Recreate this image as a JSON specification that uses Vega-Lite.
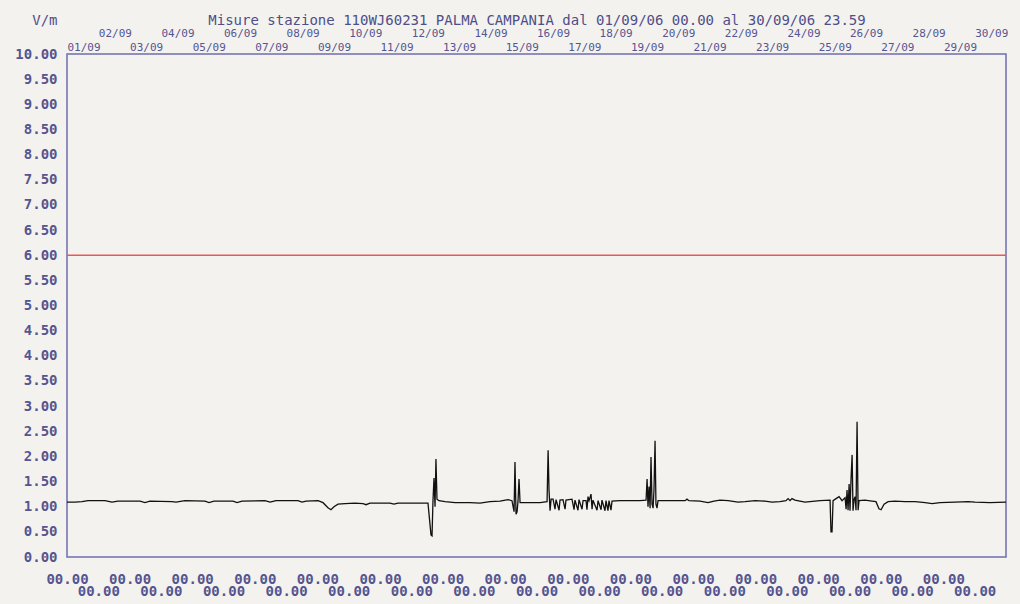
{
  "$schema": "https://vega.github.io/schema/vega-lite/v6.json",
  "autosize": "none",
  "padding": {"left": 67, "top": 54, "right": 14, "bottom": 47},
  "width": 939,
  "height": 503,
  "background": "#f4f2ef",
  "config": {
    "font": "DejaVu Sans Mono",
    "view": {"stroke": "#6e6eae", "strokeWidth": 1.5, "fill": "#f4f2ef"},
    "axisY": {
      "format": ".2f",
      "labelFont": "DejaVu Sans Mono",
      "labelFontSize": 14,
      "labelFontWeight": "bold",
      "labelColor": "#55558f",
      "labelPadding": 10,
      "labelOverlap": false,
      "labelBound": false,
      "labelFlush": false,
      "domain": false,
      "ticks": false,
      "tickSize": 0,
      "grid": false,
      "titleAngle": 0,
      "titleAlign": "right",
      "titleBaseline": "alphabetic",
      "titleX": -10,
      "titleY": -30,
      "titleFont": "DejaVu Sans Mono",
      "titleFontSize": 14,
      "titleFontWeight": "normal",
      "titleColor": "#4e4e88"
    },
    "axisX": {
      "labelBaseline": "alphabetic",
      "labelFont": "DejaVu Sans Mono",
      "labelColor": "#55558f",
      "labelOverlap": false,
      "labelBound": false,
      "labelFlush": false,
      "domain": false,
      "ticks": false,
      "tickSize": 0,
      "grid": false
    }
  },
  "datasets": {
    "soglia": [{"h": 0, "v": 6}, {"h": 720, "v": 6}],
    "misure": [
      {"h": 0, "v": 1.09}, {"h": 6.1, "v": 1.09}, {"h": 11.5, "v": 1.1}, {"h": 16.1, "v": 1.12},
      {"h": 29.1, "v": 1.12}, {"h": 34.5, "v": 1.09}, {"h": 39.1, "v": 1.11}, {"h": 56.0, "v": 1.11},
      {"h": 59.8, "v": 1.08}, {"h": 63.6, "v": 1.11}, {"h": 80.5, "v": 1.1}, {"h": 83.6, "v": 1.09},
      {"h": 90.5, "v": 1.12}, {"h": 105.8, "v": 1.11}, {"h": 108.9, "v": 1.08}, {"h": 112.7, "v": 1.11},
      {"h": 127.3, "v": 1.11}, {"h": 130.4, "v": 1.08}, {"h": 134.2, "v": 1.11}, {"h": 151.8, "v": 1.12},
      {"h": 155.7, "v": 1.09}, {"h": 160.3, "v": 1.12}, {"h": 177.1, "v": 1.12}, {"h": 180.2, "v": 1.09},
      {"h": 183.3, "v": 1.11}, {"h": 192.5, "v": 1.12}, {"h": 196.3, "v": 1.08}, {"h": 200.1, "v": 0.98},
      {"h": 202.4, "v": 0.94}, {"h": 204.7, "v": 1.0}, {"h": 207.8, "v": 1.05}, {"h": 213.2, "v": 1.06},
      {"h": 220.8, "v": 1.07}, {"h": 227.0, "v": 1.06}, {"h": 229.3, "v": 1.04}, {"h": 232.3, "v": 1.07},
      {"h": 247.7, "v": 1.07}, {"h": 250.7, "v": 1.05}, {"h": 253.8, "v": 1.07}, {"h": 276.8, "v": 1.07},
      {"h": 279.1, "v": 0.44}, {"h": 279.9, "v": 0.42}, {"h": 280.6, "v": 1.1}, {"h": 281.4, "v": 1.57},
      {"h": 282.2, "v": 1.0}, {"h": 282.9, "v": 1.95}, {"h": 283.7, "v": 1.15}, {"h": 285.2, "v": 1.12},
      {"h": 289.9, "v": 1.1}, {"h": 297.5, "v": 1.08}, {"h": 309.0, "v": 1.08}, {"h": 316.7, "v": 1.07},
      {"h": 324.3, "v": 1.1}, {"h": 332.0, "v": 1.11}, {"h": 338.2, "v": 1.14}, {"h": 341.2, "v": 1.12},
      {"h": 342.8, "v": 0.9}, {"h": 343.5, "v": 1.89}, {"h": 344.3, "v": 0.85}, {"h": 345.1, "v": 0.9},
      {"h": 345.8, "v": 1.1}, {"h": 346.6, "v": 1.55}, {"h": 347.4, "v": 1.08}, {"h": 352.0, "v": 1.08},
      {"h": 362.7, "v": 1.08}, {"h": 368.1, "v": 1.1}, {"h": 368.9, "v": 2.12}, {"h": 369.6, "v": 1.33},
      {"h": 370.4, "v": 0.92}, {"h": 371.2, "v": 1.15}, {"h": 372.7, "v": 1.15}, {"h": 374.2, "v": 0.95},
      {"h": 375.0, "v": 1.14}, {"h": 377.3, "v": 0.93}, {"h": 378.0, "v": 1.13}, {"h": 380.3, "v": 1.14},
      {"h": 381.9, "v": 0.95}, {"h": 382.6, "v": 1.13}, {"h": 387.2, "v": 1.15}, {"h": 388.8, "v": 0.94},
      {"h": 389.5, "v": 1.13}, {"h": 391.8, "v": 0.93}, {"h": 392.6, "v": 1.14}, {"h": 394.9, "v": 0.95},
      {"h": 395.7, "v": 1.12}, {"h": 398.0, "v": 1.12}, {"h": 398.7, "v": 0.94}, {"h": 399.5, "v": 1.2},
      {"h": 400.3, "v": 1.12}, {"h": 401.8, "v": 1.25}, {"h": 402.6, "v": 0.95}, {"h": 403.3, "v": 1.13},
      {"h": 406.4, "v": 0.93}, {"h": 407.2, "v": 1.12}, {"h": 409.5, "v": 0.94}, {"h": 410.2, "v": 1.13},
      {"h": 412.5, "v": 0.92}, {"h": 413.3, "v": 1.12}, {"h": 414.8, "v": 0.92}, {"h": 415.6, "v": 1.12},
      {"h": 417.1, "v": 0.93}, {"h": 417.9, "v": 1.11}, {"h": 424.0, "v": 1.12}, {"h": 439.4, "v": 1.12},
      {"h": 444.0, "v": 1.13}, {"h": 444.8, "v": 1.55}, {"h": 445.5, "v": 1.0}, {"h": 446.3, "v": 1.4},
      {"h": 447.1, "v": 0.97}, {"h": 447.8, "v": 1.99}, {"h": 448.6, "v": 1.05}, {"h": 449.4, "v": 0.97},
      {"h": 450.1, "v": 1.35}, {"h": 450.9, "v": 2.31}, {"h": 451.6, "v": 1.05}, {"h": 452.4, "v": 0.97},
      {"h": 453.2, "v": 1.12}, {"h": 462.4, "v": 1.12}, {"h": 473.9, "v": 1.12}, {"h": 475.4, "v": 1.15},
      {"h": 476.9, "v": 1.12}, {"h": 485.4, "v": 1.11}, {"h": 491.5, "v": 1.08}, {"h": 496.1, "v": 1.11},
      {"h": 500.7, "v": 1.13}, {"h": 506.9, "v": 1.12}, {"h": 514.5, "v": 1.09}, {"h": 519.9, "v": 1.1},
      {"h": 527.6, "v": 1.12}, {"h": 535.2, "v": 1.11}, {"h": 540.6, "v": 1.09}, {"h": 546.7, "v": 1.1},
      {"h": 551.3, "v": 1.12}, {"h": 552.9, "v": 1.16}, {"h": 554.4, "v": 1.12}, {"h": 555.9, "v": 1.16},
      {"h": 558.2, "v": 1.13}, {"h": 562.0, "v": 1.11}, {"h": 565.9, "v": 1.09}, {"h": 569.7, "v": 1.1},
      {"h": 577.4, "v": 1.12}, {"h": 585.1, "v": 1.13}, {"h": 585.8, "v": 0.5}, {"h": 586.6, "v": 0.5},
      {"h": 587.4, "v": 1.12}, {"h": 589.7, "v": 1.16}, {"h": 592.0, "v": 1.2}, {"h": 594.3, "v": 1.12},
      {"h": 596.6, "v": 1.18}, {"h": 597.4, "v": 0.95}, {"h": 598.1, "v": 1.33}, {"h": 598.9, "v": 0.93},
      {"h": 599.7, "v": 1.45}, {"h": 600.4, "v": 0.92}, {"h": 601.2, "v": 1.57}, {"h": 602.0, "v": 2.03},
      {"h": 602.7, "v": 0.92}, {"h": 603.5, "v": 1.15}, {"h": 604.3, "v": 1.2}, {"h": 605.0, "v": 0.93},
      {"h": 605.8, "v": 2.69}, {"h": 606.6, "v": 0.93}, {"h": 607.3, "v": 1.12}, {"h": 611.9, "v": 1.13},
      {"h": 617.3, "v": 1.11}, {"h": 620.3, "v": 1.1}, {"h": 622.6, "v": 0.96}, {"h": 624.2, "v": 0.94},
      {"h": 626.5, "v": 1.05}, {"h": 629.6, "v": 1.1}, {"h": 634.9, "v": 1.11}, {"h": 642.6, "v": 1.1},
      {"h": 650.3, "v": 1.1}, {"h": 658.0, "v": 1.08}, {"h": 663.3, "v": 1.06}, {"h": 669.4, "v": 1.08},
      {"h": 680.9, "v": 1.09}, {"h": 690.9, "v": 1.1}, {"h": 696.3, "v": 1.09}, {"h": 707.7, "v": 1.08},
      {"h": 720, "v": 1.09}
    ]
  },
  "layer": [
    {
      "data": {"name": "soglia"},
      "mark": {"type": "line", "color": "#e8585a", "strokeWidth": 1.5},
      "encoding": {
        "x": {
          "field": "h", "type": "quantitative",
          "scale": {"domain": [0, 720], "nice": false, "zero": false},
          "axis": {
            "orient": "bottom",
            "values": [0, 24, 48, 72, 96, 120, 144, 168, 192, 216, 240, 264, 288, 312, 336, 360, 384, 408, 432, 456, 480, 504, 528, 552, 576, 600, 624, 648, 672, 696],
            "labelExpr": "'00.00'",
            "labelAlign": "center",
            "labelPadding": {"condition": {"test": "round(datum.value / 24) % 2 == 1", "value": 38}, "value": 26},
            "labelFontSize": 14,
            "labelFontWeight": "bold",
            "title": null
          }
        },
        "y": {
          "field": "v", "type": "quantitative",
          "scale": {"domain": [0, 10], "nice": false, "zero": true},
          "axis": {
            "values": [0, 0.5, 1, 1.5, 2, 2.5, 3, 3.5, 4, 4.5, 5, 5.5, 6, 6.5, 7, 7.5, 8, 8.5, 9, 9.5, 10],
            "title": "V/m"
          }
        }
      }
    },
    {
      "data": {"name": "misure"},
      "mark": {"type": "line", "color": "#111111", "strokeWidth": 1.3},
      "encoding": {
        "x": {
          "field": "h", "type": "quantitative",
          "scale": {"domain": [0, 720], "nice": false, "zero": false},
          "axis": {
            "orient": "top",
            "values": [0, 24, 48, 72, 96, 120, 144, 168, 192, 216, 240, 264, 288, 312, 336, 360, 384, 408, 432, 456, 480, 504, 528, 552, 576, 600, 624, 648, 672, 696],
            "labelExpr": "pad(round(datum.value / 24) + 1, 2, '0', 'left') + '/09'",
            "labelAlign": "left",
            "labelPadding": {"condition": {"test": "round(datum.value / 24) % 2 == 1", "value": 18}, "value": 4},
            "labelFontSize": 11,
            "labelFontWeight": "normal",
            "title": "Misure stazione 110WJ60231 PALMA CAMPANIA dal 01/09/06 00.00 al 30/09/06 23.59",
            "titleFont": "DejaVu Sans Mono",
            "titleFontSize": 14,
            "titleFontWeight": "normal",
            "titleColor": "#4e4e88",
            "titleAlign": "center",
            "titleBaseline": "alphabetic",
            "titleX": 469.5,
            "titleY": -30
          }
        },
        "y": {
          "field": "v", "type": "quantitative",
          "scale": {"domain": [0, 10], "nice": false, "zero": true},
          "axis": {
            "values": [0, 0.5, 1, 1.5, 2, 2.5, 3, 3.5, 4, 4.5, 5, 5.5, 6, 6.5, 7, 7.5, 8, 8.5, 9, 9.5, 10],
            "title": "V/m"
          }
        }
      }
    }
  ],
  "resolve": {"axis": {"x": "independent"}}
}
